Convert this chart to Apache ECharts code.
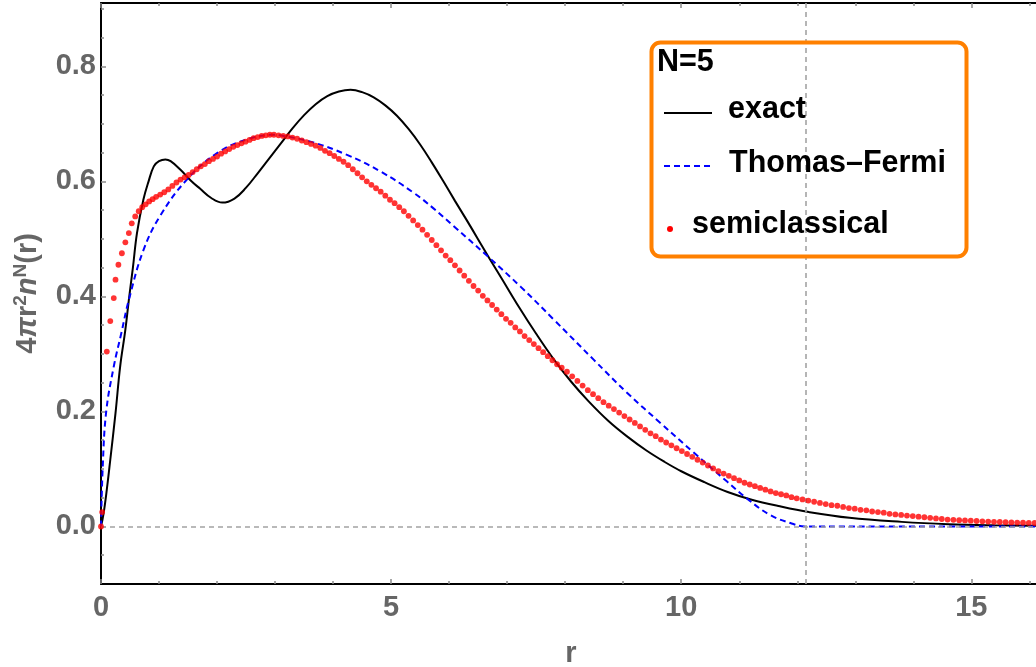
<!DOCTYPE html>
<html>
<head>
<meta charset="utf-8">
<script src="https://cdn.jsdelivr.net/npm/echarts@6/dist/echarts.min.js"></script>
<style>
html,body{margin:0;padding:0;background:#fff;}
#chart{width:1036px;height:667px;}
</style>
</head>
<body>
<div id="chart"></div>
<script>
// ---- data ----
const xMajorTicks = [0, 5, 10, 15];
const xMinorTicks = [1, 2, 3, 4, 6, 7, 8, 9, 11, 12, 13, 14, 16];
const yMajorTicks = [0, 0.2, 0.4, 0.6, 0.8];
const yMinorTicks = [-0.05, 0.05, 0.1, 0.15, 0.25, 0.3, 0.35, 0.45, 0.5, 0.55, 0.65, 0.7, 0.75, 0.85, 0.9];
const tfRadius = 12.14;

const exactR = [0, 0.045, 0.1, 0.16, 0.25, 0.33, 0.42, 0.48, 0.55, 0.62, 0.73, 0.82, 0.91, 1.0, 1.11, 1.2, 1.37, 1.55, 1.71, 1.9, 2.09, 2.3, 2.5, 2.7, 2.9, 3.1, 3.3, 3.5, 3.7, 3.9, 4.1, 4.3, 4.5, 4.7, 4.9, 5.1, 5.3, 5.5, 5.7, 5.9, 6.1, 6.3, 6.5, 6.7, 6.9, 7.2, 7.5, 7.8, 8.1, 8.4, 8.75, 9.1, 9.4, 9.7, 10.0, 10.4, 10.8, 11.2, 11.7, 12.2, 12.9, 13.8, 14.6, 15.4, 16.2];
const exactV = [0, 0.023, 0.064, 0.116, 0.197, 0.278, 0.342, 0.394, 0.45, 0.51, 0.568, 0.60, 0.626, 0.635, 0.638, 0.635, 0.62, 0.601, 0.587, 0.571, 0.563, 0.570, 0.589, 0.614, 0.640, 0.666, 0.692, 0.715, 0.734, 0.748, 0.756, 0.759, 0.755, 0.746, 0.732, 0.714, 0.691, 0.664, 0.633, 0.600, 0.566, 0.533, 0.499, 0.465, 0.432, 0.382, 0.335, 0.291, 0.252, 0.218, 0.183, 0.154, 0.132, 0.113, 0.096, 0.077, 0.060, 0.047, 0.035, 0.025, 0.015, 0.008, 0.004, 0.002, 0.001];

const tfR = [0, 0.03, 0.09, 0.22, 0.35, 0.48, 0.73, 1.02, 1.48, 2.0, 2.52, 2.98, 3.09, 3.61, 4.24, 4.82, 5.39, 5.73, 6.08, 6.66, 7.23, 7.8, 8.49, 9.07, 9.64, 10.22, 10.79, 11.14, 11.53, 11.88, 12.14, 13.0, 16.2];
const tfV = [0, 0.104, 0.2, 0.278, 0.336, 0.394, 0.48, 0.54, 0.603, 0.649, 0.673, 0.681, 0.680, 0.669, 0.646, 0.617, 0.58, 0.553, 0.522, 0.47, 0.417, 0.36, 0.29, 0.232, 0.18, 0.128, 0.078, 0.048, 0.02, 0.006, 0, 0, 0];

const semiR = [0, 0.02, 0.10, 0.16, 0.22, 0.25, 0.30, 0.36, 0.42, 0.48, 0.53, 0.59, 0.65, 0.71, 0.77, 0.83, 0.89, 0.95,
  1.02, 1.09, 1.16, 1.23, 1.30, 1.37, 1.44, 1.51, 1.58, 1.65, 1.72, 1.79, 1.86, 1.93, 2.00, 2.07, 2.14, 2.21, 2.28, 2.35, 2.42, 2.49, 2.56, 2.63, 2.70, 2.77, 2.84, 2.91, 2.98,
  3.06, 3.14, 3.22, 3.30, 3.38, 3.46, 3.54, 3.62, 3.70, 3.78, 3.86, 3.94, 4.02, 4.10, 4.18, 4.26, 4.34, 4.42, 4.50, 4.58, 4.66, 4.74, 4.82, 4.90, 4.98, 5.06, 5.14, 5.22, 5.30, 5.38, 5.46, 5.54, 5.62, 5.70, 5.78, 5.86, 5.94, 6.02, 6.10, 6.18, 6.26, 6.34, 6.42, 6.50, 6.58, 6.66, 6.74, 6.82, 6.90, 6.98, 7.06, 7.14, 7.22, 7.30, 7.38, 7.46, 7.54, 7.62, 7.70, 7.78, 7.86, 7.94,
  8.03, 8.12, 8.21, 8.30, 8.39, 8.48, 8.57, 8.66, 8.75, 8.84, 8.93, 9.02, 9.11, 9.20, 9.29, 9.38, 9.47, 9.56, 9.65, 9.74, 9.83, 9.92, 10.01, 10.10, 10.19, 10.28, 10.37, 10.46, 10.55, 10.64, 10.73, 10.82, 10.91, 11.00, 11.09, 11.18, 11.27, 11.36, 11.45, 11.54, 11.63, 11.72, 11.81, 11.90, 11.99,
  12.09, 12.19, 12.29, 12.39, 12.49, 12.59, 12.69, 12.79, 12.89, 12.99, 13.09, 13.19, 13.29, 13.39, 13.49, 13.59, 13.69, 13.79, 13.89, 13.99, 14.09, 14.19, 14.29, 14.39, 14.49, 14.59, 14.69, 14.79, 14.89, 14.99, 15.09, 15.19, 15.29, 15.39, 15.49, 15.59, 15.69, 15.79, 15.89, 15.99, 16.09, 16.19];
const semiV = [0, 0.025, 0.304, 0.357, 0.397, 0.429, 0.455, 0.475, 0.494, 0.51, 0.527, 0.539, 0.548, 0.555, 0.56, 0.565, 0.569, 0.573,
  0.577, 0.581, 0.586, 0.592, 0.598, 0.603, 0.607, 0.611, 0.616, 0.621, 0.626, 0.630, 0.635, 0.639, 0.643, 0.648, 0.652, 0.656, 0.660, 0.663, 0.666, 0.669, 0.672, 0.675, 0.677, 0.679, 0.680, 0.681, 0.681,
  0.680, 0.679, 0.678, 0.676, 0.674, 0.671, 0.668, 0.665, 0.662, 0.658, 0.653, 0.649, 0.644, 0.639, 0.634, 0.628, 0.621, 0.614, 0.607, 0.600, 0.594, 0.588, 0.582, 0.575, 0.568, 0.562, 0.555, 0.548, 0.540, 0.532, 0.524, 0.516, 0.507, 0.498, 0.489, 0.480, 0.471, 0.463, 0.454, 0.445, 0.436, 0.427, 0.418, 0.410, 0.401, 0.393, 0.385, 0.377, 0.369, 0.361, 0.354, 0.346, 0.339, 0.331, 0.324, 0.317, 0.310, 0.303, 0.296, 0.289, 0.282, 0.276,
  0.269, 0.261, 0.253, 0.245, 0.237, 0.230, 0.223, 0.216, 0.210, 0.204, 0.198, 0.192, 0.186, 0.180, 0.174, 0.168, 0.162, 0.157, 0.151, 0.146, 0.141, 0.136, 0.131, 0.126, 0.121, 0.116, 0.111, 0.106, 0.101, 0.096, 0.092, 0.088, 0.084, 0.080, 0.076, 0.073, 0.070, 0.067, 0.064, 0.061, 0.058, 0.056, 0.054, 0.051, 0.049,
  0.047, 0.045, 0.043, 0.041, 0.039, 0.037, 0.036, 0.034, 0.032, 0.031, 0.029, 0.028, 0.026, 0.025, 0.024, 0.022, 0.021, 0.020, 0.019, 0.018, 0.017, 0.016, 0.015, 0.014, 0.013, 0.012, 0.0115, 0.011, 0.0105, 0.010, 0.0095, 0.009, 0.0085, 0.008, 0.0078, 0.0074, 0.0071, 0.0068, 0.0065, 0.0062, 0.006, 0.0058];

const legendTitle = 'N=5';
const seriesNames = ['exact', 'Thomas\u2013Fermi', 'semiclassical'];

// ---- build ----
const zip = (a, b) => a.map((x, i) => [x, b[i]]);
const FONT = '"Liberation Sans", Arial, sans-serif';
const GREY = '#666666';
const TICK = '#8a8a8a';
const lbl = {fontSize: 29, fontWeight: 'bold', color: GREY, fontFamily: FONT};
const LFONT = 'bold 30.5px ' + FONT;

function xAx(position, custom, len, showLine, showLabel, extra) {
  return Object.assign({
    type: 'value', min: 0, max: 16.2, position: position,
    axisLine: {show: showLine, onZero: false, lineStyle: {color: '#000', width: 2}},
    axisTick: {show: true, inside: true, length: len, customValues: custom, lineStyle: {color: TICK, width: 1.5}},
    axisLabel: showLabel ? Object.assign({customValues: custom, margin: 9}, lbl) : {show: false},
    splitLine: {show: false}
  }, extra || {});
}
function yAx(custom, len, showLine, showLabel, extra) {
  return Object.assign({
    type: 'value', min: -0.1, max: 0.91, position: 'left',
    axisLine: {show: showLine, onZero: false, lineStyle: {color: '#000', width: 2}},
    axisTick: {show: true, inside: true, length: len, customValues: custom, lineStyle: {color: TICK, width: 1.5}},
    axisLabel: showLabel ? Object.assign({customValues: custom, margin: 5, formatter: v => v.toFixed(1)}, lbl) : {show: false},
    splitLine: {show: false}
  }, extra || {});
}

const chart = echarts.init(document.getElementById('chart'), null, {renderer: 'canvas'});
chart.setOption({
  animation: false,
  backgroundColor: '#fff',
  grid: {left: 101, right: -5, top: 3, bottom: 83, containLabel: false, outerBoundsMode: 'none'},
  xAxis: [
    xAx('bottom', xMajorTicks, 5, true, true, {
      name: 'r', nameLocation: 'middle', nameGap: 55,
      nameTextStyle: {fontSize: 29, fontWeight: 'bold', color: GREY, fontFamily: FONT}
    }),
    xAx('bottom', xMinorTicks, 3, false, false),
    xAx('top', xMajorTicks, 5, true, false),
    xAx('top', xMinorTicks, 3, false, false)
  ],
  yAxis: [
    yAx(yMajorTicks, 5, true, true, {
      name: '{n|4}{i|\u03c0}{n|r}{s|2}{i|n}{s|N}{n|(r)}',
      nameLocation: 'middle', nameGap: 57,
      nameTextStyle: {
        color: GREY, fontFamily: FONT,
        rich: {
          n: {fontSize: 29, fontWeight: 'bold', color: GREY, fontFamily: FONT},
          i: {fontSize: 29, fontWeight: 'bold', fontStyle: 'italic', color: GREY, fontFamily: FONT},
          s: {fontSize: 19, fontWeight: 'bold', color: GREY, fontFamily: FONT, verticalAlign: 'top', padding: [0, 0, 14, 0]}
        }
      }
    }),
    yAx(yMinorTicks, 3, false, false)
  ],
  series: [
    {
      type: 'line', silent: true, data: [], z: 1,
      markLine: {
        silent: true, symbol: 'none', animation: false,
        label: {show: false},
        lineStyle: {color: '#a3a3a3', type: [5, 4], width: 1.6},
        data: [{yAxis: 0}, {xAxis: tfRadius}]
      }
    },
    {
      name: seriesNames[0], type: 'line', data: zip(exactR, exactV), showSymbol: false,
      smooth: 0.4, lineStyle: {color: '#000', width: 2}, z: 3
    },
    {
      name: seriesNames[1], type: 'line', data: zip(tfR, tfV), showSymbol: false,
      smooth: 0.4, lineStyle: {color: '#0000ff', width: 2, type: [6, 4]}, z: 4
    },
    {
      name: seriesNames[2], type: 'scatter', data: zip(semiR, semiV),
      symbol: 'circle', symbolSize: 5.8, itemStyle: {color: '#ff0000'}, z: 5
    }
  ],
  graphic: [
    {type: 'rect', left: 649, top: 40, z: 100,
      shape: {width: 315, height: 214, r: 9},
      style: {fill: 'none', stroke: '#ff8000', lineWidth: 4}},
    {type: 'text', x: 657, y: 63, z: 101,
      style: {text: legendTitle, font: LFONT, fill: '#000', verticalAlign: 'middle'}},
    {type: 'line', z: 101, shape: {x1: 664, y1: 113, x2: 712, y2: 113},
      style: {stroke: '#000', lineWidth: 2}},
    {type: 'text', x: 728, y: 110, z: 101,
      style: {text: seriesNames[0], font: LFONT, fill: '#000', verticalAlign: 'middle'}},
    {type: 'line', z: 101, shape: {x1: 664, y1: 166, x2: 712, y2: 166},
      style: {stroke: '#0000ff', lineWidth: 2, lineDash: [6, 4]}},
    {type: 'text', x: 729, y: 164, z: 101,
      style: {text: seriesNames[1], font: LFONT, fill: '#000', verticalAlign: 'middle'}},
    {type: 'circle', z: 101, shape: {cx: 670, cy: 229, r: 3}, style: {fill: '#ff0000'}},
    {type: 'text', x: 692, y: 225, z: 101,
      style: {text: seriesNames[2], font: LFONT, fill: '#000', verticalAlign: 'middle'}}
  ]
});
</script>
</body>
</html>
